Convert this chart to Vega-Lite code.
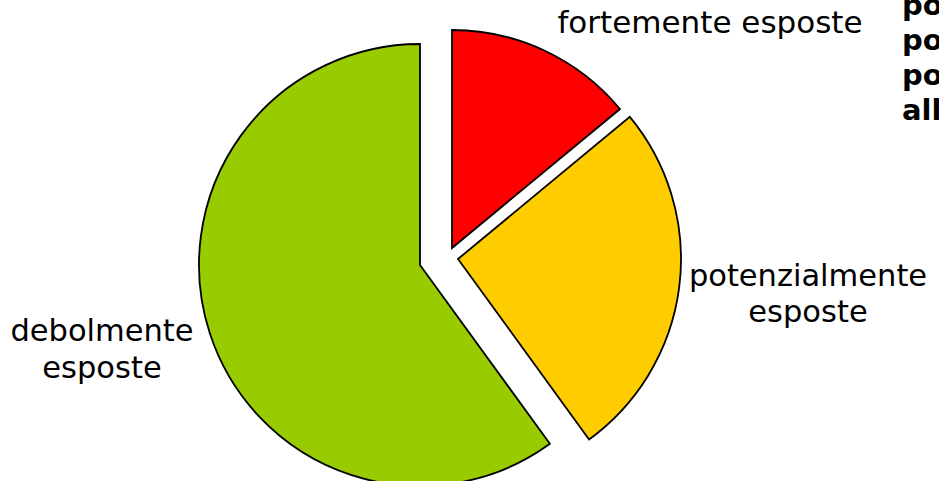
{
  "$schema": "https://vega.github.io/schema/vega-lite/v6.json",
  "width": 939,
  "height": 481,
  "autosize": {"type": "none"},
  "padding": 0,
  "background": "white",
  "config": {"view": {"stroke": null}},
  "datasets": {
    "slices": [
      {"cat": "fortemente esposte", "ord": 1, "value": 14},
      {"cat": "potenzialmente esposte", "ord": 2, "value": 26},
      {"cat": "debolmente esposte", "ord": 3, "value": 60}
    ],
    "bold": [
      {"line": "pop"},
      {"line": "pop"},
      {"line": "pop"},
      {"line": "allo"}
    ]
  },
  "data": {"name": "slices"},
  "transform": [
    {"stack": "value", "groupby": [], "sort": [{"field": "ord", "order": "ascending"}], "as": ["v0", "v1"]}
  ],
  "layer": [
    {
      "transform": [{"filter": "datum.cat === 'fortemente esposte'"}],
      "mark": {"type": "arc", "x": 452, "y": 248, "outerRadius": 218, "stroke": "black", "strokeWidth": 1.8, "fill": "#FF0000"},
      "encoding": {
        "theta": {"field": "v0", "type": "quantitative", "scale": {"domain": [0, 100]}},
        "theta2": {"field": "v1"}
      }
    },
    {
      "transform": [{"filter": "datum.cat === 'potenzialmente esposte'"}],
      "mark": {"type": "arc", "x": 458, "y": 259, "outerRadius": 223, "stroke": "black", "strokeWidth": 1.8, "fill": "#FFCC00"},
      "encoding": {
        "theta": {"field": "v0", "type": "quantitative", "scale": {"domain": [0, 100]}},
        "theta2": {"field": "v1"}
      }
    },
    {
      "transform": [{"filter": "datum.cat === 'debolmente esposte'"}],
      "mark": {"type": "arc", "x": 420, "y": 265, "outerRadius": 221, "stroke": "black", "strokeWidth": 1.8, "fill": "#99CC00"},
      "encoding": {
        "theta": {"field": "v0", "type": "quantitative", "scale": {"domain": [0, 100]}},
        "theta2": {"field": "v1"}
      }
    },
    {
      "transform": [{"filter": "datum.cat === 'fortemente esposte'"}],
      "mark": {"type": "text", "x": 710, "y": 33, "align": "center", "baseline": "alphabetic", "font": "DejaVu Sans", "fontSize": 31, "color": "black"},
      "encoding": {"text": {"field": "cat"}}
    },
    {
      "transform": [{"filter": "datum.cat === 'potenzialmente esposte'"}],
      "mark": {"type": "text", "x": 808, "y": 286, "align": "center", "baseline": "alphabetic", "font": "DejaVu Sans", "fontSize": 30.5, "lineHeight": 36, "lineBreak": " ", "color": "black"},
      "encoding": {"text": {"field": "cat"}}
    },
    {
      "transform": [{"filter": "datum.cat === 'debolmente esposte'"}],
      "mark": {"type": "text", "x": 102, "y": 341, "align": "center", "baseline": "alphabetic", "font": "DejaVu Sans", "fontSize": 30.5, "lineHeight": 37, "lineBreak": " ", "color": "black"},
      "encoding": {"text": {"field": "cat"}}
    },
    {
      "data": {"name": "bold"},
      "transform": [{"aggregate": [{"op": "values", "field": "line", "as": "lines"}]}, {"calculate": "pluck(datum.lines, 'line')", "as": "txt"}],
      "mark": {"type": "text", "x": 902, "y": 15, "align": "left", "baseline": "alphabetic", "font": "DejaVu Sans", "fontWeight": "bold", "fontSize": 29, "lineHeight": 35, "color": "black"},
      "encoding": {"text": {"field": "txt"}}
    }
  ]
}
